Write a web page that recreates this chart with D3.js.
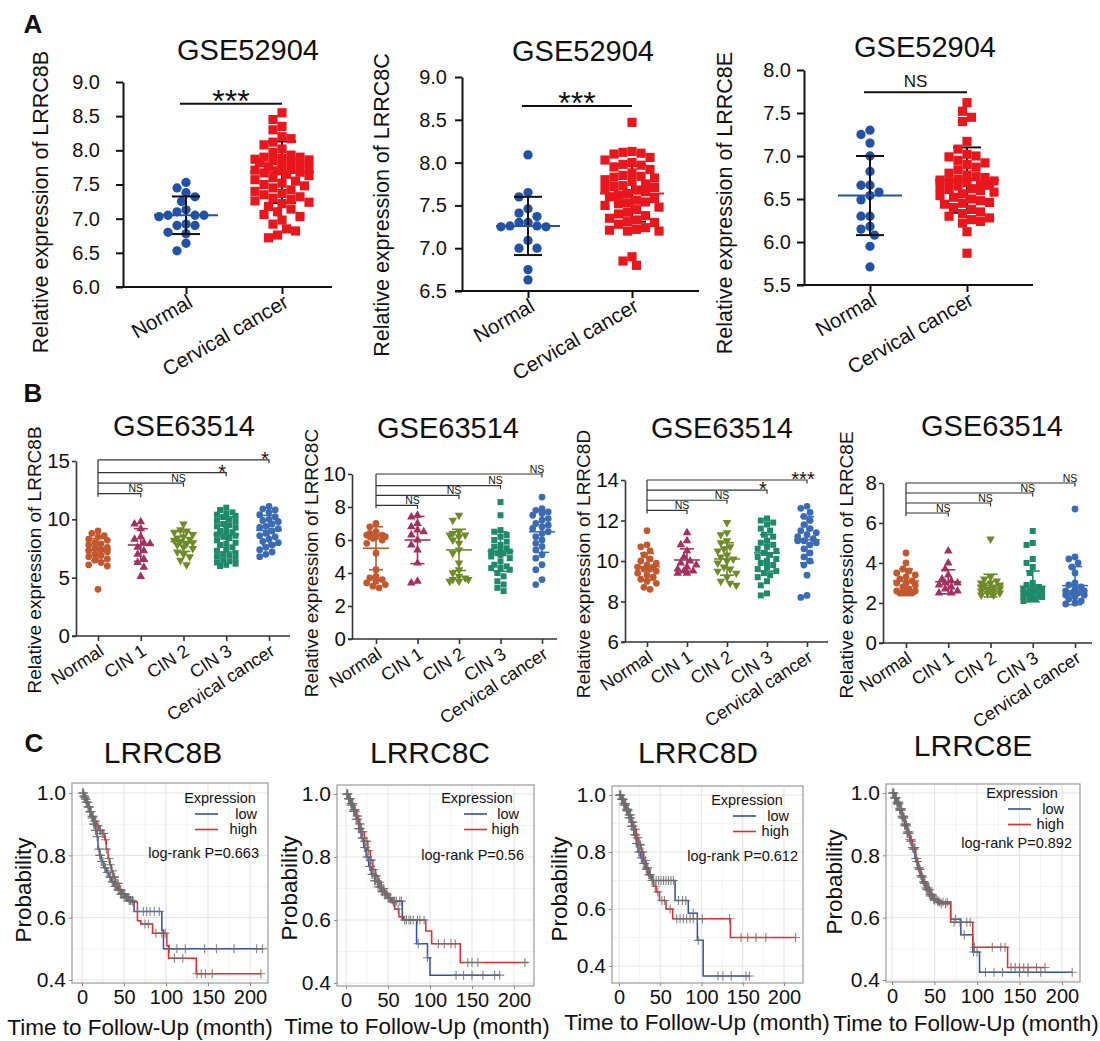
<!DOCTYPE html>
<html><head><meta charset="utf-8">
<script src="https://cdn.jsdelivr.net/npm/d3@7"></script>
<style>body{margin:0;background:#fff}svg{display:block}</style>
</head><body>
<svg id="chart" width="1100" height="1041"></svg>
<script>
// ---------------- DATA ----------------
const groupsA = ["Normal", "Cervical cancer"];
const a1Normal = [7.53,7.45,7.38,7.32,7.25,7.13,7.10,7.05,7.05,7.03,7.05,6.92,6.90,6.90,6.80,6.78,6.64,6.53];
const a1Cancer = [8.55,8.45,8.35,8.30,8.20,8.17,8.12,8.08,8.02,7.97,7.93,7.90,7.90,7.88,7.87,7.86,7.85,7.84,7.82,7.80,7.78,7.76,7.74,7.72,7.71,7.70,7.68,7.67,7.65,7.63,7.60,7.57,7.55,7.52,7.50,7.48,7.45,7.42,7.40,7.37,7.35,7.32,7.30,7.28,7.26,7.24,7.22,7.18,7.14,7.10,7.06,7.03,6.98,6.92,6.85,6.82,6.76,6.72];
const a1Mean = [7.05, 7.68], a1SD = [0.275, 0.45];
const a2Normal = [8.09,7.65,7.60,7.46,7.41,7.37,7.30,7.30,7.26,7.25,7.25,7.26,7.09,7.00,7.00,6.75,6.63];
const a2Cancer = [8.47,8.13,8.12,8.11,8.10,8.06,8.03,8.00,7.98,7.97,7.95,7.92,7.88,7.85,7.84,7.83,7.82,7.80,7.78,7.75,7.73,7.72,7.71,7.70,7.68,7.66,7.64,7.62,7.60,7.58,7.56,7.54,7.53,7.52,7.50,7.48,7.45,7.42,7.40,7.38,7.35,7.33,7.31,7.30,7.28,7.24,7.22,7.21,7.20,7.20,6.90,6.85,6.80];
const a2Mean = [7.26, 7.64], a2SD = [0.34, 0.33];
const a3Normal = [7.30,7.25,7.15,7.00,6.82,6.66,6.66,6.58,6.54,6.49,6.30,6.30,6.18,6.15,6.08,5.95,5.71];
const a3Cancer = [7.62,7.52,7.45,7.40,7.17,7.08,7.02,7.00,6.99,6.95,6.92,6.90,6.87,6.84,6.80,6.78,6.76,6.75,6.73,6.72,6.71,6.70,6.69,6.68,6.66,6.65,6.64,6.62,6.61,6.60,6.58,6.56,6.54,6.52,6.50,6.48,6.46,6.45,6.44,6.40,6.38,6.35,6.33,6.30,6.28,6.26,6.24,6.22,6.12,5.87];
const a3Mean = [6.54, 6.72], a3SD = [0.46, 0.38];
const aSig = ["***", "***", "NS"];
const aSigLevel = [8.68, 8.66, 7.74];
const aTicks1 = [6.0,6.5,7.0,7.5,8.0,8.5,9.0];
const aTicks2 = [6.5,7.0,7.5,8.0,8.5,9.0];
const aTicks3 = [5.5,6.0,6.5,7.0,7.5,8.0];

const groupsB = ["Normal", "CIN 1", "CIN 2", "CIN 3", "Cervical cancer"];
const b1Values = [
  [9.0,8.8,8.6,8.5,8.3,8.2,8.0,7.9,7.8,7.6,7.5,7.4,7.3,7.2,7.0,6.9,6.8,6.6,6.5,6.3,6.1,6.0,4.0],
  [9.8,9.6,9.2,8.5,8.3,8.0,7.9,7.6,7.3,7.0,6.6,6.3,5.9,5.1],
  [9.6,9.1,9.0,8.9,8.7,8.5,8.4,8.3,8.2,8.1,8.0,7.9,7.8,7.6,7.5,7.2,7.0,6.8,6.5,6.1],
  [11.0,10.8,10.6,10.5,10.4,10.3,10.2,10.0,9.9,9.8,9.6,9.5,9.4,9.3,9.2,9.0,8.9,8.8,8.7,8.6,8.5,8.4,8.2,8.0,7.9,7.8,7.6,7.4,7.3,7.1,7.0,6.9,6.8,6.6,6.5,6.4,6.3,6.2,6.1,6.0],
  [11.1,10.9,10.8,10.6,10.4,10.2,10.0,9.9,9.8,9.6,9.4,9.3,9.2,9.0,8.8,8.6,8.5,8.3,8.1,8.0,7.8,7.6,7.4,7.2,7.0,6.8]
];
const b1Mean = [7.4, 7.8, 8.1, 8.7, 9.05], b1SD = [0.95, 1.4, 0.85, 1.5, 1.28];
const b1Sig = ["NS","NS","*","*"], b1SigLevel = [12.2, 13.1, 14.0, 15.1];
const b2Values = [
  [7.0,6.8,6.5,6.4,6.3,6.3,6.2,6.2,6.2,6.1,6.0,5.8,5.2,4.2,3.8,3.7,3.6,3.5,3.4,3.3,3.2,3.1],
  [7.5,7.4,7.0,6.8,6.6,6.5,6.3,6.0,5.7,5.4,4.6,3.5,3.4],
  [7.5,7.2,6.5,6.4,6.3,6.3,6.2,6.0,5.8,5.4,5.2,4.6,4.2,4.0,3.8,3.7,3.6,3.5,3.5,3.6],
  [8.3,7.5,6.6,6.5,6.3,6.2,6.0,5.9,5.7,5.6,5.5,5.4,5.3,5.3,5.2,5.2,5.1,5.0,4.9,4.7,4.5,4.4,4.3,4.3,4.2,4.0,3.8,3.5,3.3,3.1,2.9],
  [8.6,7.9,7.8,7.7,7.6,7.5,7.3,7.2,7.0,6.9,6.8,6.7,6.5,6.4,6.2,6.0,5.8,5.6,5.4,5.1,4.9,4.5,4.2,3.6,3.3]
];
const b2Mean = [5.5, 6.0, 5.4, 5.3, 6.5], b2SD = [1.3, 1.43, 1.25, 1.2, 1.25];
const b2Sig = ["NS","NS","NS","NS"], b2SigLevel = [8.1, 8.7, 9.3, 10.0];
const b3Values = [
  [11.5,10.8,10.7,10.5,10.3,10.1,10.0,9.9,9.8,9.7,9.7,9.6,9.6,9.5,9.4,9.3,9.2,9.1,9.0,8.9,8.7,8.6],
  [11.4,11.0,10.8,10.5,10.2,10.0,9.9,9.8,9.7,9.6,9.5,9.5,9.4,9.4],
  [11.9,11.4,11.3,11.0,10.9,10.7,10.6,10.5,10.3,10.2,10.1,10.0,9.9,9.7,9.6,9.5,9.4,9.2,9.0,8.9,8.8],
  [12.1,12.0,11.9,11.8,11.6,11.5,11.3,11.2,11.0,10.9,10.8,10.7,10.6,10.5,10.4,10.3,10.2,10.1,10.0,9.9,9.8,9.7,9.6,9.5,9.4,9.3,9.2,9.0,8.8,8.4,8.3],
  [12.7,12.6,12.4,12.2,12.0,11.8,11.6,11.5,11.4,11.3,11.2,11.1,11.0,11.0,10.9,10.8,10.6,10.4,10.2,10.0,9.8,9.3,8.3,8.2]
];
const b3Mean = [9.72, 10.05, 10.1, 10.4, 11.05], b3SD = [0.66, 0.55, 0.8, 0.9, 1.14];
const b3Sig = ["NS","NS","*","***"], b3SigLevel = [12.5, 13.0, 13.5, 14.0];
const b4Values = [
  [4.5,4.0,3.7,3.6,3.5,3.4,3.3,3.2,3.1,3.0,3.0,2.9,2.8,2.7,2.6,2.6,2.5,2.5,2.5,2.5,2.5],
  [4.6,4.0,3.7,3.4,3.2,3.1,3.0,3.0,2.9,2.8,2.7,2.6,2.5,2.5],
  [5.2,3.3,3.2,3.1,3.0,3.0,2.9,2.9,2.8,2.8,2.7,2.7,2.6,2.6,2.5,2.5,2.4,2.4],
  [5.6,5.0,4.9,4.2,4.0,3.8,3.5,3.0,2.9,2.8,2.8,2.7,2.7,2.6,2.6,2.6,2.5,2.5,2.5,2.4,2.4,2.4,2.3,2.3,2.2,2.2,2.1],
  [6.7,4.3,4.2,4.0,3.8,3.5,3.0,2.9,2.8,2.7,2.6,2.6,2.5,2.5,2.5,2.4,2.4,2.3,2.2,2.1,2.0,1.95]
];
const b4Mean = [3.1, 3.06, 2.87, 2.83, 2.87], b4SD = [0.6, 0.6, 0.57, 0.77, 0.95];
const b4Sig = ["NS","NS","NS","NS"], b4SigLevel = [6.5, 7.0, 7.5, 8.0];

const kmTicksX = [0, 50, 100, 150, 200];
const kmTicksY = [0.4, 0.6, 0.8, 1.0];
const c1Low = [[0,1],[2,0.99],[4,0.98],[6,0.97],[8,0.955],[10,0.94],[12,0.92],[14,0.9],[16,0.88],[18,0.86],[19,0.82],[21,0.8],[23,0.78],[26,0.76],[29,0.745],[32,0.73],[35,0.715],[38,0.7],[42,0.69],[46,0.675],[50,0.665],[55,0.655],[62,0.62],[95,0.56],[97,0.5],[215,0.5]];
const c1High = [[0,1],[3,0.985],[5,0.97],[7,0.955],[9,0.94],[11,0.925],[14,0.91],[17,0.895],[20,0.88],[24,0.87],[27,0.85],[29,0.82],[31,0.79],[33,0.77],[35,0.75],[37,0.73],[40,0.71],[44,0.69],[48,0.675],[52,0.665],[58,0.65],[66,0.59],[70,0.58],[84,0.55],[101,0.51],[103,0.47],[136,0.42],[213,0.42]];
const c1LowCens = [1,2,3,4,5,6,7,8,9,10,11,12,13,14,15,16,17,18,20,21,22,23,24,25,27,28,30,31,33,34,36,37,39,40,41,43,44,46,47,49,50,52,53,54,56,57,58,60,66,73,77,81,86,92,104,113,123,146,160,181,208,215];
const c1HighCens = [1,2,3,4,5,6,7,8,9,10,12,13,15,16,18,19,21,22,24,25,26,28,29,32,34,36,38,39,42,43,45,46,48,50,51,53,55,56,61,75,79,88,95,99,110,120,137,142,147,155,213];
const c2Low = [[0,1],[3,0.985],[6,0.965],[9,0.945],[12,0.92],[15,0.89],[18,0.86],[21,0.83],[24,0.8],[27,0.77],[30,0.745],[34,0.725],[38,0.705],[42,0.69],[46,0.68],[50,0.67],[54,0.66],[67,0.6],[84,0.525],[97,0.48],[100,0.425],[183,0.425]];
const c2High = [[0,1],[3,0.985],[6,0.97],[9,0.95],[12,0.93],[15,0.905],[18,0.88],[22,0.85],[26,0.82],[29,0.79],[32,0.76],[35,0.74],[38,0.72],[42,0.7],[46,0.685],[50,0.67],[55,0.655],[58,0.635],[63,0.61],[69,0.6],[95,0.565],[102,0.525],[136,0.465],[217,0.465]];
const c2LowCens = [1,2,3,4,5,6,7,8,9,10,11,12,13,14,15,16,17,19,20,22,23,25,26,28,29,31,32,34,35,37,38,40,41,43,44,46,47,49,50,52,53,56,58,60,64,66,72,77,86,97,131,140,150,163,177,183];
const c2HighCens = [1,2,3,4,5,6,7,8,9,10,11,13,14,16,17,19,20,22,24,25,27,29,30,33,35,36,39,40,44,45,48,51,53,57,62,70,75,80,85,88,93,110,117,125,130,145,150,157,213];
const c3Low = [[0,1],[3,0.985],[6,0.965],[9,0.945],[12,0.92],[15,0.89],[18,0.86],[21,0.83],[23,0.8],[26,0.78],[29,0.76],[32,0.74],[35,0.72],[40,0.7],[68,0.63],[84,0.585],[95,0.49],[102,0.365],[158,0.365]];
const c3High = [[0,1],[3,0.985],[6,0.97],[9,0.95],[12,0.93],[15,0.905],[18,0.88],[21,0.85],[24,0.825],[27,0.8],[30,0.77],[33,0.745],[36,0.72],[39,0.7],[42,0.68],[45,0.66],[49,0.63],[57,0.6],[65,0.566],[135,0.5],[214,0.5]];
const c3LowCens = [1,2,3,4,5,6,7,8,9,10,11,12,13,14,15,16,17,19,20,21,22,24,25,27,28,30,31,33,34,36,37,38,42,45,48,51,54,57,60,63,66,72,77,81,90,96,120,126,136,154,158];
const c3HighCens = [1,2,3,4,5,6,7,8,9,10,11,12,13,14,16,17,18,20,22,23,25,26,28,29,32,34,35,38,40,41,44,47,52,55,62,70,74,78,82,86,90,95,101,134,148,156,166,178,214];
const c4Low = [[0,1],[3,0.985],[6,0.965],[9,0.945],[12,0.92],[15,0.895],[18,0.87],[21,0.845],[24,0.82],[27,0.79],[30,0.76],[33,0.735],[36,0.715],[40,0.695],[44,0.675],[48,0.66],[53,0.65],[69,0.595],[81,0.545],[95,0.49],[103,0.425],[212,0.425]];
const c4High = [[0,1],[3,0.985],[6,0.97],[9,0.95],[12,0.925],[15,0.9],[18,0.875],[21,0.85],[24,0.825],[28,0.78],[31,0.755],[34,0.73],[37,0.71],[41,0.69],[45,0.67],[50,0.655],[55,0.645],[69,0.585],[95,0.505],[136,0.44],[180,0.44]];
const c4LowCens = [1,2,3,4,5,6,7,8,9,10,11,12,13,14,15,16,17,18,19,20,22,23,25,26,28,29,31,32,34,35,37,38,40,41,43,44,46,47,49,50,52,54,56,60,65,75,85,96,100,110,120,130,150,160,175,212];
const c4HighCens = [1,2,3,4,5,6,7,8,9,10,11,12,13,14,15,16,17,18,19,20,21,23,24,26,27,29,30,32,33,35,36,38,39,41,42,44,45,47,50,54,58,63,73,80,88,92,97,118,128,133,140,145,150,155,160,170,180];
const kmPvalues = ["0.663", "0.56", "0.612", "0.892"];

// ---------------- STYLE ----------------
const FONT = "'Liberation Sans', Arial, Helvetica, sans-serif";
const colorsA = ["#2152a3", "#e8161d"];
const colorsB = ["#c2582e", "#a3315f", "#6f8b28", "#1f8a68", "#3b6cb3"];
const shapesB = [d3.symbolCircle, d3.symbolTriangle, "tdown", d3.symbolSquare, d3.symbolCircle];
const LOW = "#2f4fa8", HIGH = "#e32b2b", CENS = "#6e6e6e";
const svg = d3.select("#chart");

function txt(g, x, y, s, size, o = {}) {
  const t = g.append("text").attr("x", x).attr("y", y).text(s)
    .attr("font-family", FONT).attr("font-size", size).attr("fill", o.fill || "#111")
    .attr("text-anchor", o.anchor || "middle");
  if (o.weight) t.attr("font-weight", o.weight);
  if (o.rotate) t.attr("transform", `rotate(${o.rotate},${x},${y})`);
  return t;
}

// deterministic beeswarm layout
function swarm(values, yScale, size, maxOff) {
  const pts = values.map(v => ({ v, y: yScale(v), dx: 0 })).sort((a, b) => a.y - b.y);
  const placed = [];
  const step = size * 0.5;
  const cands = [0];
  for (let k = 1; k * step <= maxOff + 0.01; k++) cands.push(-k * step, k * step);
  for (const p of pts) {
    let best = 0, bestScore = -Infinity;
    for (const dx of cands) {
      let minD = Infinity;
      for (const q of placed) {
        const d = Math.hypot(dx - q.dx, p.y - q.y);
        if (d < minD) minD = d;
      }
      if (minD >= size) { best = dx; break; }
      if (minD > bestScore) { bestScore = minD; best = dx; }
    }
    p.dx = best;
    placed.push(p);
  }
  return pts;
}

function symPath(type, area) {
  if (type === "tdown") return d3.symbol(d3.symbolTriangle, area)();
  return d3.symbol(type, area)();
}

// ---------------- ROW A ----------------
function drawA(cfg) {
  const g = svg.append("g");
  const y = d3.scaleLinear().domain(cfg.yDomain).range(cfg.yRange);
  const x = d3.scalePoint().domain(groupsA).range(cfg.xRange);
  const y0 = cfg.yRange[0];
  const ya = g.append("g").attr("transform", `translate(${cfg.axisX},0)`)
    .call(d3.axisLeft(y).tickValues(cfg.ticks).tickFormat(d3.format(".1f")).tickSize(7).tickSizeOuter(0).tickPadding(cfg.pad));
  ya.selectAll("path,line").attr("stroke", "#111").attr("stroke-width", 2);
  ya.selectAll("text").attr("font-family", FONT).attr("font-size", 20).attr("fill", "#111");
  g.append("line").attr("x1", cfg.axisX - 7).attr("x2", cfg.axisEnd).attr("y1", y0).attr("y2", y0)
    .attr("stroke", "#111").attr("stroke-width", 2);
  const xa = g.append("g").attr("transform", `translate(0,${y0})`)
    .call(d3.axisBottom(x).tickSize(7).tickSizeOuter(0).tickFormat(""));
  xa.select(".domain").remove();
  xa.selectAll("line").attr("stroke", "#111").attr("stroke-width", 2);
  groupsA.forEach(gr => {
    g.append("text").text(gr).attr("font-family", FONT).attr("font-size", 20.5).attr("fill", "#111")
      .attr("text-anchor", "end")
      .attr("transform", `translate(${x(gr) + 8},${y0 + 19}) rotate(-30)`);
  });
  const vals = [cfg.normal, cfg.cancer];
  vals.forEach((vs, i) => {
    const cx = x(groupsA[i]);
    const m = cfg.mean[i], s = cfg.sd[i];
    const bar = () => {
      g.append("line").attr("x1", cx).attr("x2", cx).attr("y1", y(m + s)).attr("y2", y(m - s)).attr("stroke", "#111").attr("stroke-width", 2);
      [m + s, m - s].forEach(v => g.append("line").attr("x1", cx - 14).attr("x2", cx + 14).attr("y1", y(v)).attr("y2", y(v)).attr("stroke", "#111").attr("stroke-width", 2));
    };
    if (i === 1) bar();
    const sw = swarm(vs, y, 9, 31);
    g.selectAll(null).data(sw).enter().append("path")
      .attr("d", symPath(i === 0 ? d3.symbolCircle : d3.symbolSquare, i === 0 ? 68 : 84))
      .attr("transform", d => `translate(${cx + d.dx},${d.y})`)
      .attr("fill", colorsA[i]);
    if (i === 0) bar();
    g.append("line").attr("x1", cx - 32).attr("x2", cx + 32).attr("y1", y(m)).attr("y2", y(m))
      .attr("stroke", colorsA[i]).attr("stroke-width", 2);
  });
  const ly = y(cfg.sigLevel);
  g.append("line").attr("x1", x(groupsA[0]) - 6).attr("x2", x(groupsA[1])).attr("y1", ly).attr("y2", ly).attr("stroke", "#111").attr("stroke-width", 2);
  const mx = (x(groupsA[0]) + x(groupsA[1])) / 2 - 3;
  if (cfg.sig === "NS") txt(g, mx, ly - 5, "NS", 17);
  else txt(g, mx, ly + 8, cfg.sig, 32);
  txt(g, cfg.titleX, cfg.titleY, "GSE52904", 29);
  txt(g, cfg.ylX, cfg.ylY, cfg.ylabel, 21.5, { rotate: -90 }).attr("dominant-baseline", "middle");
}

drawA({ normal: a1Normal, cancer: a1Cancer, mean: a1Mean, sd: a1SD, sig: aSig[0], sigLevel: aSigLevel[0],
  yDomain: [6, 9], yRange: [287, 82], ticks: aTicks1, pad: 16, axisX: 123, axisEnd: 332, xRange: [186, 282],
  titleX: 248, titleY: 60, ylabel: "Relative expression of LRRC8B", ylX: 42, ylY: 202 });
drawA({ normal: a2Normal, cancer: a2Cancer, mean: a2Mean, sd: a2SD, sig: aSig[1], sigLevel: aSigLevel[1],
  yDomain: [6.5, 9], yRange: [291, 77], ticks: aTicks2, pad: 8, axisX: 462, axisEnd: 699, xRange: [528, 632],
  titleX: 583, titleY: 61, ylabel: "Relative expression of LRRC8C", ylX: 383, ylY: 205 });
drawA({ normal: a3Normal, cancer: a3Cancer, mean: a3Mean, sd: a3SD, sig: aSig[2], sigLevel: aSigLevel[2],
  yDomain: [5.5, 8], yRange: [285, 70], ticks: aTicks3, pad: 6, axisX: 804, axisEnd: 1033, xRange: [870, 967],
  titleX: 925, titleY: 57, ylabel: "Relative expression of LRRC8E", ylX: 726, ylY: 203 });

// ---------------- ROW B ----------------
function drawB(cfg) {
  const g = svg.append("g");
  const y = d3.scaleLinear().domain(cfg.yDomain).range(cfg.yRange);
  const x = d3.scalePoint().domain(groupsB).range(cfg.xRange);
  const y0 = cfg.yRange[0];
  const ya = g.append("g").attr("transform", `translate(${cfg.axisX},0)`)
    .call(d3.axisLeft(y).tickValues(cfg.ticks).tickSize(4).tickSizeOuter(0).tickPadding(2));
  ya.selectAll("path,line").attr("stroke", "#333").attr("stroke-width", 1.6);
  ya.selectAll("text").attr("font-family", FONT).attr("font-size", 20.5).attr("fill", "#111");
  g.append("line").attr("x1", cfg.axisX - 4).attr("x2", cfg.axisEnd).attr("y1", y0).attr("y2", y0).attr("stroke", "#333").attr("stroke-width", 1.6);
  const xa = g.append("g").attr("transform", `translate(0,${y0})`)
    .call(d3.axisBottom(x).tickSize(5).tickSizeOuter(0).tickFormat(""));
  xa.select(".domain").remove();
  xa.selectAll("line").attr("stroke", "#333").attr("stroke-width", 1.6);
  groupsB.forEach(gr => {
    g.append("text").text(gr).attr("font-family", FONT).attr("font-size", 18).attr("fill", "#111")
      .attr("text-anchor", "end")
      .attr("transform", `translate(${x(gr) + 7},${y0 + 18}) rotate(-33)`);
  });
  cfg.values.forEach((vs, i) => {
    const cx = x(groupsB[i]);
    const sw = swarm(vs, y, 6.2, 12);
    const p = symPath(shapesB[i], i === 1 || i === 2 ? 32 : 36);
    g.selectAll(null).data(sw).enter().append("path")
      .attr("d", p)
      .attr("transform", d => `translate(${cx + d.dx},${d.y})${shapesB[i] === "tdown" ? " rotate(180)" : ""}`)
      .attr("fill", colorsB[i]);
    const m = cfg.mean[i], s = cfg.sd[i];
    g.append("line").attr("x1", cx).attr("x2", cx).attr("y1", y(m + s)).attr("y2", y(m - s)).attr("stroke", colorsB[i]).attr("stroke-width", 1.6);
    [m + s, m - s].forEach(v => g.append("line").attr("x1", cx - 7).attr("x2", cx + 7).attr("y1", y(v)).attr("y2", y(v)).attr("stroke", colorsB[i]).attr("stroke-width", 1.6));
    g.append("line").attr("x1", cx - 13).attr("x2", cx + 13).attr("y1", y(m)).attr("y2", y(m)).attr("stroke", colorsB[i]).attr("stroke-width", 1.6);
  });
  const x0 = x(groupsB[0]);
  const top = y(d3.max(cfg.sigLevel)), bot = y(d3.min(cfg.sigLevel)) + 3;
  g.append("line").attr("x1", x0).attr("x2", x0).attr("y1", top).attr("y2", bot).attr("stroke", "#333").attr("stroke-width", 1.2);
  cfg.sig.forEach((s, i) => {
    const xe = x(groupsB[i + 1]), ly = y(cfg.sigLevel[i]);
    g.append("path").attr("d", `M${x0},${ly}H${xe}V${ly + 3.5}`).attr("fill", "none").attr("stroke", "#333").attr("stroke-width", 1.2);
    if (s === "NS") txt(g, xe - 5, ly - 1.5, "NS", 10.5);
    else txt(g, xe - 4, ly + 6, s, 20);
  });
  txt(g, cfg.titleX, cfg.titleY, "GSE63514", 29);
  txt(g, cfg.ylX, cfg.ylY, cfg.ylabel, 19, { rotate: -90 }).attr("dominant-baseline", "middle");
}

drawB({ values: b1Values, mean: b1Mean, sd: b1SD, sig: b1Sig, sigLevel: b1SigLevel,
  yDomain: [0, 15], yRange: [636, 461], ticks: [0, 5, 10, 15], axisX: 76, axisEnd: 290, xRange: [98, 269],
  titleX: 184, titleY: 436, ylabel: "Relative expression of LRRC8B", ylX: 36, ylY: 560 });
drawB({ values: b2Values, mean: b2Mean, sd: b2SD, sig: b2Sig, sigLevel: b2SigLevel,
  yDomain: [0, 10], yRange: [639, 474], ticks: [0, 2, 4, 6, 8, 10], axisX: 352, axisEnd: 557, xRange: [376, 542],
  titleX: 448, titleY: 438, ylabel: "Relative expression of LRRC8C", ylX: 313, ylY: 563 });
drawB({ values: b3Values, mean: b3Mean, sd: b3SD, sig: b3Sig, sigLevel: b3SigLevel,
  yDomain: [6, 14], yRange: [642, 480], ticks: [6, 8, 10, 12, 14], axisX: 625, axisEnd: 828, xRange: [647, 807],
  titleX: 722, titleY: 438, ylabel: "Relative expression of LRRC8D", ylX: 585, ylY: 564 });
drawB({ values: b4Values, mean: b4Mean, sd: b4SD, sig: b4Sig, sigLevel: b4SigLevel,
  yDomain: [0, 8], yRange: [643, 483], ticks: [0, 2, 4, 6, 8], axisX: 883, axisEnd: 1092, xRange: [906, 1075],
  titleX: 992, titleY: 436, ylabel: "Relative expression of LRRC8E", ylX: 848, ylY: 565 });

// ---------------- ROW C ----------------
function stepVal(curve, t) {
  let s = curve[0][1];
  for (const [ti, si] of curve) { if (ti <= t) s = si; else break; }
  return s;
}
function drawKM(cfg) {
  const g = svg.append("g");
  const x = d3.scaleLinear().domain([0, 200]).range(cfg.xRange);
  const y = d3.scaleLinear().domain([0.4, 1.0]).range(cfg.yRange);
  const [L, R, T, B] = cfg.frame;
  g.append("rect").attr("x", L).attr("y", T).attr("width", R - L).attr("height", B - T).attr("fill", "#fff");
  const inX = v => x(v) > L && x(v) < R, inY = v => y(v) > T && y(v) < B;
  [-25, 25, 75, 125, 175, 225].filter(inX).forEach(v => g.append("line").attr("x1", x(v)).attr("x2", x(v)).attr("y1", T).attr("y2", B).attr("stroke", "#f3f3f3").attr("stroke-width", 1));
  [0.3, 0.5, 0.7, 0.9].filter(inY).forEach(v => g.append("line").attr("y1", y(v)).attr("y2", y(v)).attr("x1", L).attr("x2", R).attr("stroke", "#f3f3f3").attr("stroke-width", 1));
  kmTicksX.filter(inX).forEach(v => g.append("line").attr("x1", x(v)).attr("x2", x(v)).attr("y1", T).attr("y2", B).attr("stroke", "#e6e6e6").attr("stroke-width", 1.2));
  kmTicksY.filter(inY).forEach(v => g.append("line").attr("y1", y(v)).attr("y2", y(v)).attr("x1", L).attr("x2", R).attr("stroke", "#e6e6e6").attr("stroke-width", 1.2));
  const line = d3.line().x(d => x(d[0])).y(d => y(d[1])).curve(d3.curveStepAfter);
  [[cfg.low, LOW], [cfg.high, HIGH]].forEach(([c, col]) => {
    g.append("path").attr("d", line(c)).attr("fill", "none").attr("stroke", col).attr("stroke-width", 1.5);
  });
  [[cfg.low, cfg.lowCens], [cfg.high, cfg.highCens]].forEach(([c, cens]) => {
    cens.forEach(t => {
      const px = x(t), py = y(stepVal(c, t));
      g.append("path").attr("d", `M${px - 4.5},${py}H${px + 4.5}M${px},${py - 4.5}V${py + 4.5}`)
        .attr("stroke", CENS).attr("stroke-width", 1.1).attr("fill", "none").attr("opacity", 0.85);
    });
  });
  g.append("rect").attr("x", L).attr("y", T).attr("width", R - L).attr("height", B - T).attr("fill", "none").attr("stroke", "#999").attr("stroke-width", 1.2);
  const ya = g.append("g").attr("transform", `translate(${L},0)`)
    .call(d3.axisLeft(y).tickValues(kmTicksY).tickFormat(d3.format(".1f")).tickSize(3).tickPadding(3));
  ya.select(".domain").remove();
  ya.selectAll("line").attr("stroke", "#888");
  ya.selectAll("text").attr("font-family", FONT).attr("font-size", 21).attr("fill", "#111");
  const xa = g.append("g").attr("transform", `translate(0,${B})`)
    .call(d3.axisBottom(x).tickValues(kmTicksX).tickSize(3).tickPadding(4));
  xa.select(".domain").remove();
  xa.selectAll("line").attr("stroke", "#888");
  xa.selectAll("text").attr("font-family", FONT).attr("font-size", 20).attr("fill", "#111");
  const lg = cfg.legend;
  txt(g, lg.ex, lg.ey, "Expression", 14.5);
  txt(g, lg.rx, lg.ey + 15.5, "low", 14.5, { anchor: "end" });
  txt(g, lg.rx, lg.ey + 31, "high", 14.5, { anchor: "end" });
  g.append("line").attr("x1", lg.lx).attr("x2", lg.lx + 23).attr("y1", lg.ey + 11).attr("y2", lg.ey + 11).attr("stroke", LOW).attr("stroke-width", 1.6);
  g.append("line").attr("x1", lg.lx).attr("x2", lg.lx + 23).attr("y1", lg.ey + 26.5).attr("y2", lg.ey + 26.5).attr("stroke", HIGH).attr("stroke-width", 1.6);
  txt(g, lg.px, lg.py, "log-rank P=" + cfg.p, 14.5, { anchor: "end" });
  txt(g, cfg.titleX, cfg.titleY, cfg.title, 30);
  txt(g, cfg.ylX, cfg.ylY, "Probability", 22.5, { rotate: -90 }).attr("dominant-baseline", "middle");
  txt(g, cfg.xlX, cfg.xlY, "Time to Follow-Up (month)", 22.5);
}

drawKM({ title: "LRRC8B", p: kmPvalues[0], low: c1Low, high: c1High, lowCens: c1LowCens, highCens: c1HighCens,
  xRange: [82, 250], yRange: [980, 793], frame: [72, 268, 783, 983],
  legend: { ex: 220, ey: 803, rx: 257, lx: 195, px: 259, py: 858 },
  titleX: 163, titleY: 763, ylX: 25, ylY: 890, xlX: 140, xlY: 1035 });
drawKM({ title: "LRRC8C", p: kmPvalues[1], low: c2Low, high: c2High, lowCens: c2LowCens, highCens: c2HighCens,
  xRange: [346, 514], yRange: [983, 794], frame: [337, 534, 785, 986],
  legend: { ex: 477, ey: 803, rx: 519, lx: 464, px: 524, py: 860 },
  titleX: 430, titleY: 763, ylX: 291, ylY: 888, xlX: 417, xlY: 1034 });
drawKM({ title: "LRRC8D", p: kmPvalues[2], low: c3Low, high: c3High, lowCens: c3LowCens, highCens: c3HighCens,
  xRange: [619, 784], yRange: [966, 795], frame: [612, 803, 786, 983],
  legend: { ex: 747, ey: 805, rx: 789, lx: 733, px: 798, py: 861 },
  titleX: 698, titleY: 763, ylX: 561, ylY: 889, xlX: 697, xlY: 1030 });
drawKM({ title: "LRRC8E", p: kmPvalues[3], low: c4Low, high: c4High, lowCens: c4LowCens, highCens: c4HighCens,
  xRange: [892, 1062], yRange: [980, 793], frame: [886, 1080, 784, 982],
  legend: { ex: 1022, ey: 798, rx: 1064, lx: 1008, px: 1072, py: 848 },
  titleX: 973, titleY: 756, ylX: 836, ylY: 882, xlX: 966, xlY: 1031 });

txt(svg, 33, 33, "A", 26, { weight: "bold" });
txt(svg, 33, 402, "B", 26, { weight: "bold" });
txt(svg, 34, 752, "C", 26, { weight: "bold" });
</script>
</body></html>
